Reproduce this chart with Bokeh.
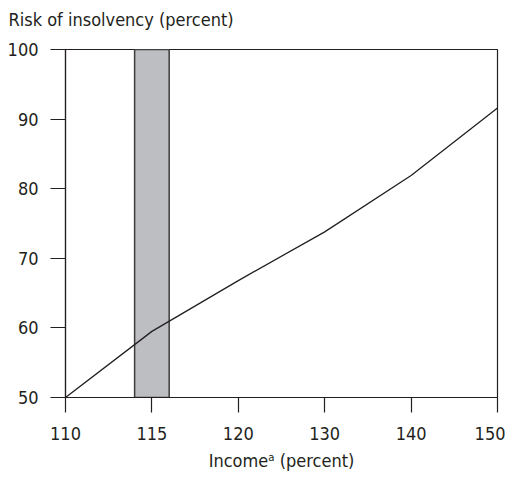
import numpy as np
from bokeh.plotting import figure
from bokeh.models import FixedTicker, Range1d, Title
from bokeh.embed import file_html
from bokeh.resources import INLINE

# Data
income_ticks = [110, 115, 120, 130, 140, 150]
income_points = [110, 115, 120, 130, 140, 150]
risk = [50, 59.5, 66.8, 73.8, 81.9, 91.6]
band_low = [114]
band_high = [116]
y_ticks = [50, 60, 70, 80, 90, 100]
title_text = "Risk of insolvency (percent)"
x_label = "Income\u1d43 (percent)"

FONT = "'Liberation Sans Narrow', 'DejaVu Sans Condensed', sans-serif"
INK = "#231f20"

positions = list(range(len(income_ticks)))


def to_pos(v):
    return np.interp(v, income_ticks, positions)


p = figure(width=505, height=479, output_backend="svg", toolbar_location=None,
           x_range=Range1d(0, 5), y_range=Range1d(50, 100),
           min_border_left=65, min_border_right=8, min_border_top=10,
           min_border_bottom=82)

# panels stack outward from the frame in the order they are added
gap_below = Title(text=" ", text_font=FONT, text_font_size="6px", standoff=10)
p.add_layout(gap_below, "above")
main_title = Title(text=title_text, text_font=FONT, text_font_size="18px",
                   text_font_style="normal", text_color=INK, align="left",
                   offset=-57, standoff=2)
p.add_layout(main_title, "above")
gap_above = Title(text=" ", text_font=FONT, text_font_size="3px", standoff=0)
p.add_layout(gap_above, "above")

p.quad(left=list(to_pos(band_low)), right=list(to_pos(band_high)), bottom=50, top=100,
       fill_color="#bdbec2", line_color="#3c3c3c", line_width=1.5)
p.line(list(to_pos(income_points)), risk, line_color=INK, line_width=1.3)

p.xgrid.visible = False
p.ygrid.visible = False
p.outline_line_color = INK
p.outline_line_width = 1.2
p.outline_line_alpha = 1
p.background_fill_color = "white"
p.border_fill_color = "white"

p.xaxis.ticker = FixedTicker(ticks=positions)
p.xaxis.major_label_overrides = {i: str(v) for i, v in zip(positions, income_ticks)}
p.yaxis.ticker = FixedTicker(ticks=y_ticks)
p.xaxis.axis_label = x_label

for ax in (p.xaxis, p.yaxis):
    ax.axis_line_color = INK
    ax.axis_line_width = 1.2
    ax.major_tick_line_color = INK
    ax.major_tick_line_width = 1.2
    ax.major_tick_out = 15
    ax.major_tick_in = 0
    ax.minor_tick_line_color = None
    ax.major_label_text_font = FONT
    ax.major_label_text_font_size = "18px"
    ax.major_label_text_color = INK
    ax.major_label_standoff = 12
    ax.axis_label_text_font = FONT
    ax.axis_label_text_font_size = "18px"
    ax.axis_label_text_font_style = "normal"
    ax.axis_label_text_color = INK
    ax.axis_label_standoff = 12

p.xaxis.major_label_standoff = 14
p.xaxis.axis_label_standoff = 7

open("out.html", "w").write(file_html(p, INLINE))
